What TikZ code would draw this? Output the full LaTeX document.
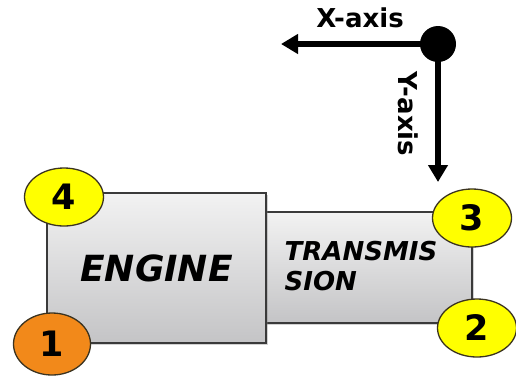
\documentclass[tikz,border=0pt]{standalone}
\usepackage{fontspec}
\setmainfont{DejaVu Sans}
\usetikzlibrary{positioning, shapes.geometric, arrows.meta, shadows}
\definecolor{boxtop}{HTML}{F2F2F2}
\definecolor{boxbot}{HTML}{C4C4C6}
\definecolor{boxline}{HTML}{3A3A3A}
\definecolor{ptyellow}{HTML}{FFFF00}
\definecolor{ptorange}{HTML}{F2891A}
\definecolor{ptline}{HTML}{3B3320}

\begin{document}
\begin{tikzpicture}[x=1pt, y=-1pt,
    part/.style={draw=boxline, line width=1.4pt, top color=boxtop, bottom color=boxbot,
                 drop shadow={shadow xshift=2pt, shadow yshift=-2pt, opacity=0.35}},
    partlabel/.style={font=\bfseries\itshape, align=left},
    pt/.style={ellipse, draw=ptline, line width=1.3pt, fill=ptyellow, minimum width=79pt,
               minimum height=58pt, inner sep=0pt, font=\fontsize{35}{35}\selectfont\bfseries},
    axis/.style={line width=6pt, -{Triangle[length=17pt, width=19pt]}},
    axlabel/.style={font=\fontsize{26}{26}\selectfont\bfseries}]
  \useasboundingbox[fill=white] (0,0) rectangle (516,376);
  % gearbox first, engine sits on top of it
  \node[part, minimum width=208pt, minimum height=111pt] (trans) at (368,267.5) {};
  \node[partlabel, font=\fontsize{26}{30}\selectfont\bfseries\itshape]
    (translabel) at (361,266) {TRANSMIS\\SION};
  \node[part, minimum width=219pt, minimum height=150pt] (engine) at (156.5,268) {};
  \node[partlabel, font=\fontsize{36}{36}\selectfont\bfseries\itshape]
    (enginelabel) at (engine.center) {ENGINE};
  \node[pt] (p4) at (64,197) {4};
  \node[pt, fill=ptorange, minimum width=77pt, minimum height=62pt] (p1) at (52,344) {1};
  \node[pt] (p3) at (472,218) {3};
  \node[pt] (p2) at (477,328) {2};
  % axes
  \node[circle, fill=black, minimum size=36pt, inner sep=0pt] (origin) at (438,44) {};
  \coordinate (xend) at (281,44);
  \coordinate (yend) at (438,182);
  \draw[axis] (origin.center) -- (xend);
  \draw[axis] (origin.center) -- (yend);
  \node[axlabel] (xlab) at (360,18) {X-axis};
  \node[axlabel, rotate=-90] (ylab) at (408,114) {Y-axis};
\end{tikzpicture}
\end{document}
